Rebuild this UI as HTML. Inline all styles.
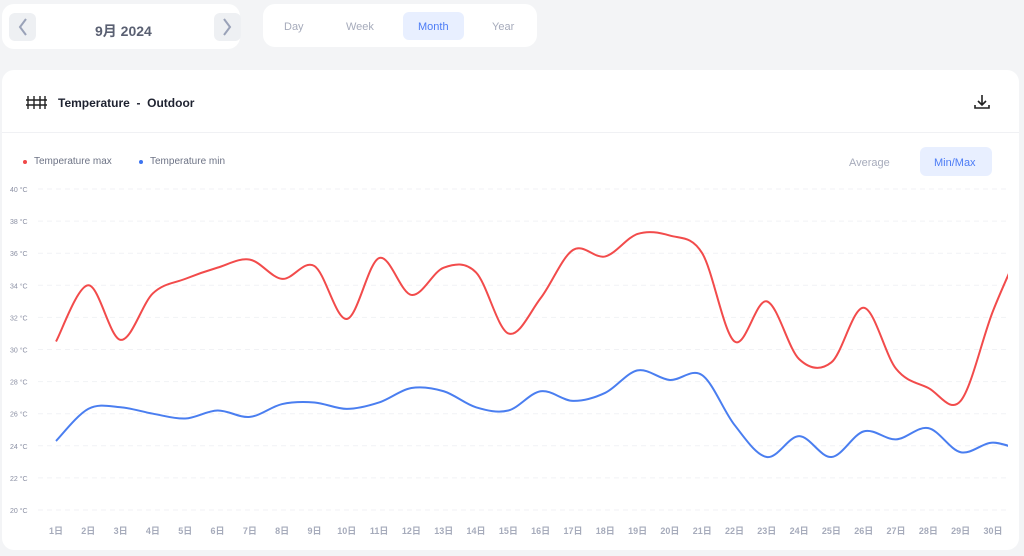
<!DOCTYPE html>
<html><head><meta charset="utf-8"><style>
body{margin:0;width:1024px;height:556px;background:#f3f4f6;font-family:"Liberation Sans","Noto Sans CJK JP",sans-serif;position:relative;overflow:hidden}
.box{position:absolute;background:#fff;border-radius:12px}
.btn{position:absolute;border-radius:6px}
.t{position:absolute;white-space:nowrap}
</style></head><body>
<div class="box" style="left:2px;top:4px;width:238px;height:45px"></div>
<div class="btn" style="left:9px;top:13px;width:27px;height:28px;background:#eef0f3"></div>
<div class="btn" style="left:214px;top:13px;width:27px;height:28px;background:#eef0f3"></div>
<svg style="position:absolute;left:0;top:0" width="260" height="50"><path d="M26 19l-6 8 6 8" stroke="#9aa2b8" stroke-width="2" fill="none"/><path d="M224 19l6 8-6 8" stroke="#9aa2b8" stroke-width="2" fill="none"/></svg>
<div class="t" style="left:95px;top:21px;font-size:14px;font-weight:bold;color:#5a6072">9月 2024</div>
<div class="box" style="left:263px;top:4px;width:274px;height:43px"></div>
<div class="btn" style="left:403px;top:12px;width:61px;height:28px;background:#e8efff"></div>
<div class="t" style="left:284px;top:21px;font-size:11px;color:#a6abbb">Day</div>
<div class="t" style="left:346px;top:21px;font-size:11px;color:#a6abbb">Week</div>
<div class="t" style="left:418px;top:21px;font-size:11px;color:#4d7cf5">Month</div>
<div class="t" style="left:492px;top:21px;font-size:11px;color:#a6abbb">Year</div>
<div class="box" style="left:2px;top:70px;width:1017px;height:480px"></div>
<div style="position:absolute;left:2px;top:132px;width:1017px;height:1px;background:#f0f1f4"></div>
<svg style="position:absolute;left:24px;top:93px" width="24" height="18"><g stroke="#222" stroke-width="1.4" fill="none"><path d="M4 3v13M10 3v13M16 3v13M21 3v13M2 7h21M2 12h21"/></g></svg>
<div class="t" style="left:58px;top:96px;font-size:12px;font-weight:bold;color:#1e2230">Temperature &nbsp;- &nbsp;Outdoor</div>
<svg style="position:absolute;left:972px;top:93px" width="20" height="18"><g stroke="#222" stroke-width="1.6" fill="none"><path d="M10 2v10M6 8l4 4 4-4M3 12v3h14v-3"/></g></svg>
<div style="position:absolute;left:23px;top:160px;width:4px;height:4px;border-radius:50%;background:#f04848"></div>
<div class="t" style="left:34px;top:156px;font-size:10px;color:#6d7385">Temperature max</div>
<div style="position:absolute;left:139px;top:160px;width:4px;height:4px;border-radius:50%;background:#3d74f0"></div>
<div class="t" style="left:150px;top:156px;font-size:10px;color:#6d7385">Temperature min</div>
<div class="t" style="left:849px;top:157px;font-size:11px;color:#a6abbb">Average</div>
<div class="btn" style="left:920px;top:147px;width:72px;height:29px;background:#e8efff"></div>
<div class="t" style="left:934px;top:157px;font-size:11px;color:#4d7cf5">Min/Max</div>
<svg id="c" style="position:absolute;left:0;top:0" width="1024" height="556"></svg>
<script>
var s=document.getElementById('c'),h='';
function Y(v){return 510-(v-20)*16.05}
for(var v=20;v<=40;v+=2){var y=Y(v);h+='<line x1="38" x2="1010" y1="'+y+'" y2="'+y+'" stroke="#f1f2f5" stroke-dasharray="5,4"/>';h+='<text x="10" y="'+(y+3)+'" font-size="7" fill="#8a8fa3">'+v+' °C</text>';}
var step=32.31;
for(var i=1;i<=30;i++){h+='<text x="'+(56+(i-1)*step)+'" y="534" font-size="9" font-weight="bold" fill="#a6abbb" text-anchor="middle">'+i+'日</text>';}
var mx=[30.5,34,30.6,33.5,34.4,35.1,35.6,34.4,35.2,31.9,35.7,33.4,35.1,34.8,31.0,33.2,36.2,35.8,37.2,37.1,36.0,30.5,33.0,29.4,29.2,32.6,28.8,27.6,26.8,32.4,37];
var mn=[24.3,26.3,26.4,26.0,25.7,26.2,25.8,26.6,26.7,26.3,26.7,27.6,27.4,26.4,26.2,27.4,26.8,27.3,28.7,28.1,28.4,25.3,23.3,24.6,23.3,24.9,24.4,25.1,23.6,24.2,23.6];
function path(d){var p=d.map(function(v,i){return [56+i*step,Y(v)]});var o='M'+p[0][0]+' '+p[0][1];
for(var i=0;i<p.length-1;i++){var a=p[Math.max(i-1,0)],b=p[i],c=p[i+1],e=p[Math.min(i+2,p.length-1)];
o+=' C'+(b[0]+(c[0]-a[0])/6)+' '+(b[1]+(c[1]-a[1])/6)+' '+(c[0]-(e[0]-b[0])/6)+' '+(c[1]-(e[1]-b[1])/6)+' '+c[0]+' '+c[1];}return o;}
h+='<defs><clipPath id="k"><rect x="0" y="0" width="1008" height="556"/></clipPath></defs>';
h+='<path clip-path="url(#k)" d="'+path(mx)+'" stroke="#f24b4b" stroke-width="2" fill="none"/>';
h+='<path clip-path="url(#k)" d="'+path(mn)+'" stroke="#4a7ef0" stroke-width="2" fill="none"/>';
s.innerHTML=h;
</script>
</body></html>
